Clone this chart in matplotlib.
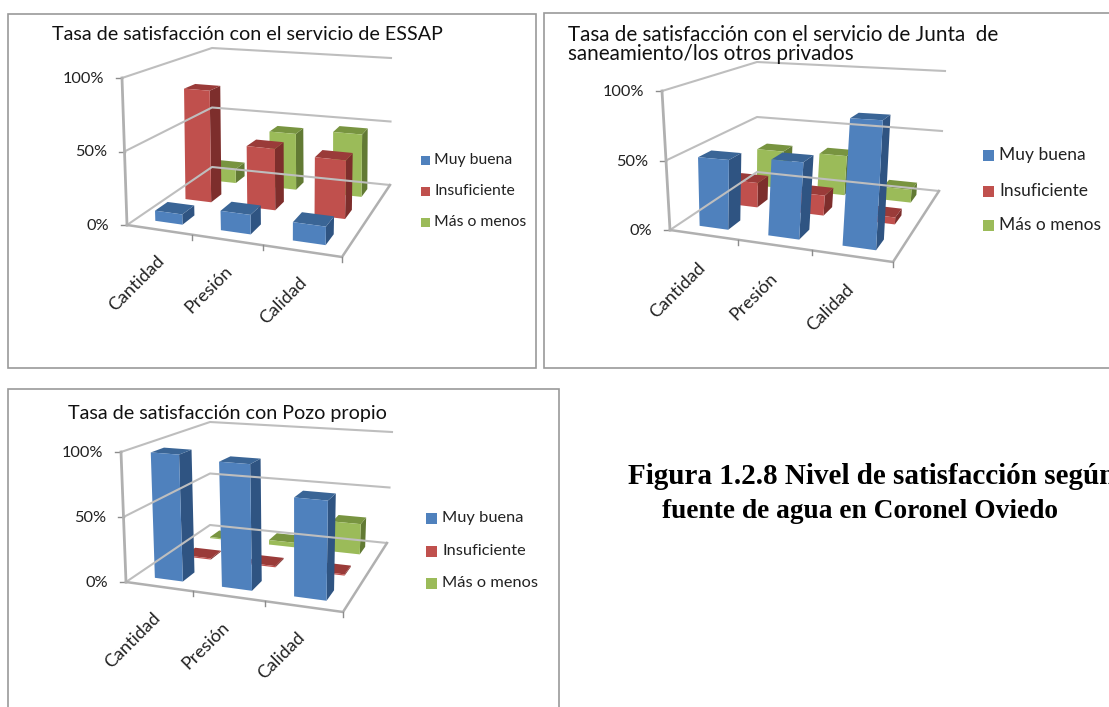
#!/usr/bin/env python3
# -*- coding: utf-8 -*-
import numpy as np
import matplotlib
matplotlib.use('Agg')
import matplotlib.pyplot as plt
from matplotlib.patches import Polygon, Rectangle

plt.rcParams['font.family'] = ['Lato', 'DejaVu Sans']

categorias = ['Cantidad', 'Presión', 'Calidad']
series = ['Muy buena', 'Insuficiente', 'Más o menos']
ticks_y = [0, 50, 100]

# porcentajes por fuente de agua, una lista por serie
essap_muy_buena = [7, 13, 12]
essap_insuficiente = [82, 44, 41]
essap_mas_menos = [11, 43, 47]

junta_muy_buena = [50, 53, 85]
junta_insuficiente = [19, 15, 5]
junta_mas_menos = [31, 32, 10]

pozo_muy_buena = [98, 95, 73]
pozo_insuficiente = [1, 1, 1]
pozo_mas_menos = [1, 4, 26]

colores = [('#4F81BD', '#3A6596', '#2F5482'),
           ('#C0504D', '#9A3B39', '#7D2E2C'),
           ('#9BBB59', '#789440', '#627A34')]


def homografia(esquinas):
    # esquinas: (0,0) (1,0) (1,1) (0,1) del plano
    src = [(0, 0), (1, 0), (1, 1), (0, 1)]
    A, b = [], []
    for (u, v), (px, py) in zip(src, esquinas):
        A.append([u, v, 1, 0, 0, 0, -u * px, -v * px])
        A.append([0, 0, 0, u, v, 1, -u * py, -v * py])
        b += [px, py]
    h = np.linalg.solve(np.array(A, float), np.array(b, float))
    return np.append(h, 1).reshape(3, 3)


def proyector(suelo, techo):
    hs, ht = homografia(suelo), homografia(techo)

    def punto(x, y, z):
        ps = hs @ [x, y, 1]
        pt = ht @ [x, y, 1]
        ps, pt = ps[:2] / ps[2], pt[:2] / pt[2]
        return tuple((1 - z) * ps + z * pt)
    return punto


def barra(ax, p, i, s, valor, cols):
    x0, x1 = (i + 0.5) / 3 - 0.068, (i + 0.5) / 3 + 0.074
    y0, y1 = (s + 0.5) / 3 - 0.07, (s + 0.5) / 3 + 0.062
    z = valor / 100
    frente, arriba, lado = cols
    ax.add_patch(Polygon([p(x1, y0, 0), p(x1, y1, 0), p(x1, y1, z), p(x1, y0, z)], fc=lado, ec='none'))
    ax.add_patch(Polygon([p(x0, y0, z), p(x1, y0, z), p(x1, y1, z), p(x0, y1, z)], fc=arriba, ec='none'))
    ax.add_patch(Polygon([p(x0, y0, 0), p(x1, y0, 0), p(x1, y0, z), p(x0, y0, z)], fc=frente, ec='none'))


def grafico(ax, titulo, datos, suelo, techo, marco, tit, ley, cat_off, fs_ley):
    ax.add_patch(Rectangle((marco[0], marco[1]), marco[2] - marco[0], marco[3] - marco[1],
                           fc='white', ec='#9A9A9A', lw=1.2))
    p = proyector(suelo, techo)
    gris = '#BEBEBE'

    # paredes y lineas de division
    for t in ticks_y:
        z = t / 100
        a, b, c = p(0, 0, z), p(0, 1, z), p(1, 1, z)
        ax.plot([a[0], b[0], c[0]], [a[1], b[1], c[1]], color=gris, lw=1.5)
        ax.plot([a[0] - 6, a[0]], [a[1], a[1]], color='#8C8C8C', lw=1)
        ax.text(a[0] - 17.5, a[1] + 1, '%d%%' % t, ha='right', va='center', fontsize=11.8, color='#222222')
    a, b = p(0, 0, 0), p(0, 0, 1)
    ax.plot([a[0], b[0]], [a[1], b[1]], color='#B0B0B0', lw=2)
    esq = [p(0, 0, 0), p(1, 0, 0), p(1, 1, 0)]
    ax.plot([q[0] for q in esq], [q[1] for q in esq], color='#B0B0B0', lw=1.8)
    for k in [1, 2, 3]:
        q = p(k / 3, 0, 0)
        ax.plot([q[0], q[0]], [q[1], q[1] + 5], color='#8C8C8C', lw=1)

    # de atras hacia adelante
    for s in [2, 1, 0]:
        for i in range(3):
            barra(ax, p, i, s, datos[s][i], colores[s])

    for i, cat in enumerate(categorias):
        q = p((i + 0.5) / 3, 0, 0)
        ax.text(q[0] + cat_off[0], q[1] + cat_off[1], cat, rotation=45, ha='right', va='top',
                rotation_mode='anchor', fontsize=13, color='#222222')

    ax.text(tit[0], tit[1], titulo, ha='left', va='top', fontsize=tit[2], color='#111111', linespacing=0.95)

    lx, lys, lado, tx = ley
    for s, nombre in enumerate(series):
        ax.add_patch(Rectangle((lx, lys[s] - lado / 2), lado, lado, fc=colores[s][0], ec='none'))
        ax.text(tx, lys[s], nombre, ha='left', va='center', fontsize=fs_ley, color='#222222')


fig = plt.figure(figsize=(11.09, 7.07), dpi=100)
ax = fig.add_axes([0, 0, 1, 1])
ax.set_xlim(0, 1109)
ax.set_ylim(707, 0)
ax.axis('off')

grafico(ax, 'Tasa de satisfacción con el servicio de ESSAP',
        [essap_muy_buena, essap_insuficiente, essap_mas_menos],
        [(127, 225), (342, 257), (390, 185), (212, 167)],
        [(122, 78), (347, 98), (391, 58), (212, 48)],
        (8, 14, 536, 368), (52, 26, 14.2), (421, [160, 191, 222], 9, 434), (-3, 23), 11.3)

grafico(ax, 'Tasa de satisfacción con el servicio de Junta  de\nsaneamiento/los otros privados',
        [junta_muy_buena, junta_insuficiente, junta_mas_menos],
        [(670, 230), (893, 262), (939, 191), (757, 172)],
        [(662, 91), (900, 102), (945, 71), (757, 62)],
        (544, 13, 1130, 368), (568, 25, 14.9), (983, [155, 191, 225], 11, 999), (-6, 25), 12.5)

grafico(ax, 'Tasa de satisfacción con Pozo propio',
        [pozo_muy_buena, pozo_insuficiente, pozo_mas_menos],
        [(126, 582), (343, 612), (387, 543), (210, 525)],
        [(121, 452), (346, 470), (392, 432), (210, 422)],
        (8, 389, 559, 730), (68, 405, 14.2), (426, [518, 551, 583], 11, 442), (-7, 23), 11.8)

ax.text(628, 476, 'Figura 1.2.8 Nivel de satisfacción según', family='Liberation Serif', weight='bold',
        fontsize=21, ha='left', va='center', color='black', clip_on=True)
ax.text(860, 512, 'fuente de agua en Coronel Oviedo', family='Liberation Serif', weight='bold',
        fontsize=19.7, ha='center', va='center', color='black')

fig.savefig('out.png', dpi=100)
